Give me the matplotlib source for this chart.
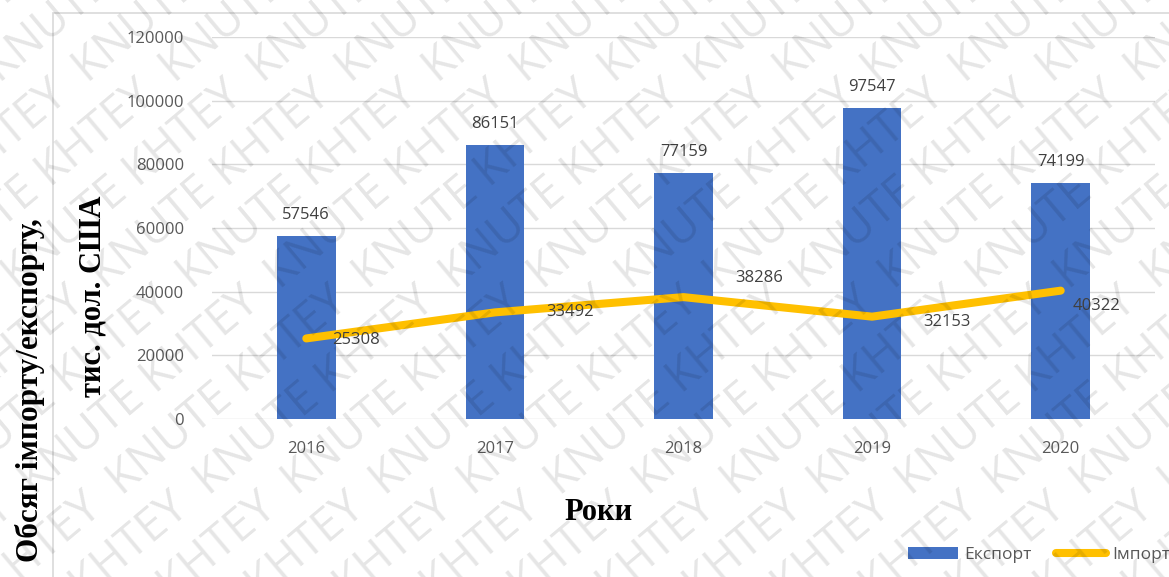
import numpy as np
import matplotlib.pyplot as plt
from matplotlib.patches import Rectangle

# data
years = ['2016', '2017', '2018', '2019', '2020']
export = [57546, 86151, 77159, 97547, 74199]
imports = [25308, 33492, 38286, 32153, 40322]
y_ticks = [0, 20000, 40000, 60000, 80000, 100000, 120000]

# label offsets for the import line (pixels)
imp_offsets = [(50, -2), (75, 0), (76, 19), (75, -5), (36, -15)]

plt.rcParams['font.family'] = ['Open Sans', 'DejaVu Sans']

fig = plt.figure(figsize=(11.69, 5.77), dpi=100)
ax = fig.add_axes([212 / 1169, 158 / 577, 943 / 1169, 382 / 577])

x = np.arange(len(years))
bars = ax.bar(x, export, width=0.31, color='#4472C4', zorder=2, label='Експорт')
line, = ax.plot(x, imports, color='#FFC000', lw=5.8, solid_capstyle='round', zorder=3, label='Імпорт')

for xi, v in zip(x, export):
    ax.annotate(str(v), (xi, v), xytext=(0, 21), textcoords='offset pixels',
                ha='center', va='center', fontsize=12, color='#404040', zorder=4)
for xi, v, (dx, dy) in zip(x, imports, imp_offsets):
    ax.annotate(str(v), (xi, v), xytext=(dx, dy), textcoords='offset pixels',
                ha='center', va='center', fontsize=12, color='#404040', zorder=4)

ax.set_xlim(-0.5, 4.5)
ax.set_ylim(0, 120000)
ax.set_xticks(x)
ax.set_xticklabels(years)
ax.set_yticks(y_ticks)
ax.tick_params(axis='both', length=0, labelsize=12, labelcolor='#595959')
ax.tick_params(axis='x', pad=16)
ax.tick_params(axis='y', pad=20)
ax.grid(axis='y', color='#D9D9D9', lw=1, zorder=0)
for s in ax.spines.values():
    s.set_visible(False)

# outer chart frame
fig.patches.append(Rectangle((53 / 1169, -0.1), 1.2, 1.1 - 13 / 577, transform=fig.transFigure,
                             fill=False, edgecolor='#D9D9D9', lw=1.2, zorder=0))

# axis titles
fig.text(30 / 1169, 1 - 390 / 577, 'Обсяг імпорту/експорту,', rotation=90,
         ha='center', va='center', fontsize=22.5, fontweight='bold', family='Liberation Serif')
fig.text(93 / 1169, 1 - 296 / 577, 'тис. дол. США', rotation=90,
         ha='center', va='center', fontsize=22, fontweight='bold', family='Liberation Serif')
fig.text(598 / 1169, 1 - 512 / 577, 'Роки', ha='center', va='center',
         fontsize=22, fontweight='bold', family='Liberation Serif')

# legend
fig.legend([bars, line], ['Експорт', 'Імпорт'], loc='center left',
           bbox_to_anchor=(899 / 1169, 1 - 555 / 577), ncol=2, frameon=False,
           fontsize=12.5, handlelength=2.9, handletextpad=0.35, columnspacing=1.4,
           labelcolor='#595959', borderpad=0)

# watermark
for k in range(-10, 18):
    fig.text(k * 0.075, 0.5, '  '.join(['KNUTE KHTEY'] * 6), rotation=40, rotation_mode='anchor',
             ha='center', va='center', fontsize=33, color='#000000', alpha=0.1,
             transform=fig.transFigure, zorder=10)

fig.savefig('out.png', dpi=100)
